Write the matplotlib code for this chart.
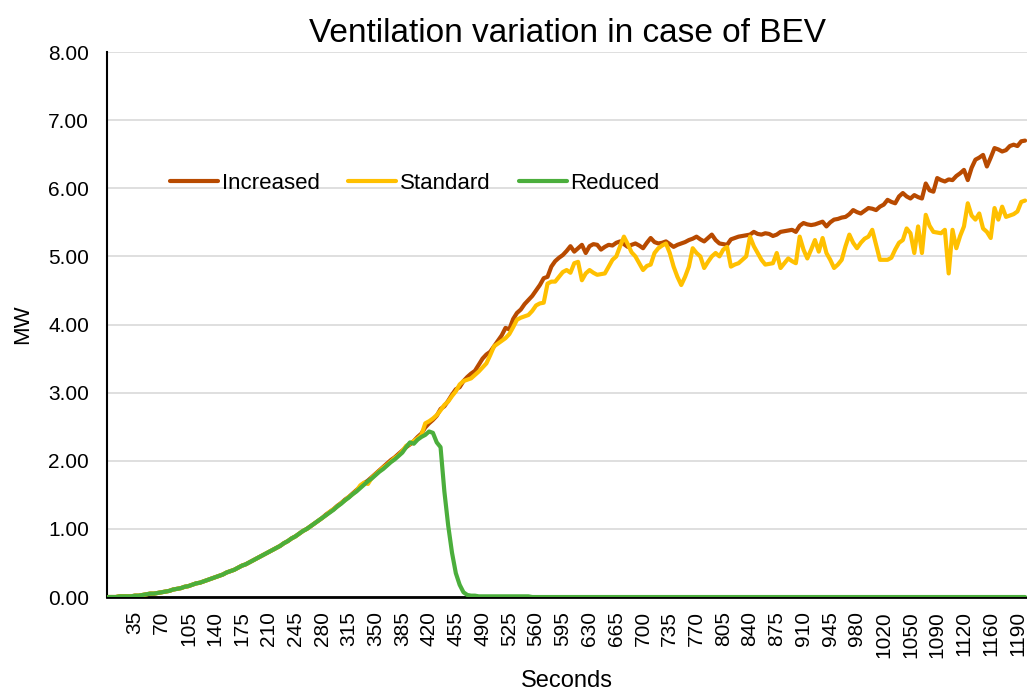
import matplotlib.pyplot as plt
import numpy as np

plt.rcParams['font.family'] = ['Liberation Sans', 'DejaVu Sans']

# values, one value per 5 s step (MW)
increased = [
    0.00, 0.00, 0.00, 0.01, 0.01, 0.01, 0.01, 0.02, 0.02, 0.03,
    0.04, 0.05, 0.05, 0.06, 0.07, 0.08, 0.09, 0.11, 0.12, 0.13,
    0.15, 0.16, 0.18, 0.20, 0.21, 0.23, 0.25, 0.27, 0.29, 0.31,
    0.33, 0.36, 0.38, 0.40, 0.43, 0.46, 0.48, 0.51, 0.54, 0.57,
    0.60, 0.63, 0.66, 0.69, 0.72, 0.75, 0.79, 0.82, 0.86, 0.89,
    0.93, 0.97, 1.00, 1.04, 1.08, 1.12, 1.16, 1.21, 1.25, 1.29,
    1.34, 1.38, 1.43, 1.47, 1.52, 1.57, 1.62, 1.67, 1.71, 1.76,
    1.81, 1.86, 1.91, 1.96, 2.01, 2.05, 2.10, 2.15, 2.20, 2.24,
    2.29, 2.35, 2.40, 2.49, 2.55, 2.60, 2.66, 2.76, 2.80, 2.88,
    2.97, 3.05, 3.08, 3.17, 3.23, 3.28, 3.32, 3.41, 3.50, 3.56,
    3.60, 3.68, 3.76, 3.84, 3.95, 3.93, 4.08, 4.17, 4.22, 4.30,
    4.36, 4.42, 4.50, 4.58, 4.68, 4.70, 4.85, 4.93, 4.98, 5.02,
    5.08, 5.15, 5.07, 5.12, 5.17, 5.05, 5.15, 5.18, 5.17, 5.10,
    5.14, 5.17, 5.16, 5.20, 5.22, 5.18, 5.14, 5.17, 5.19, 5.16,
    5.12, 5.20, 5.27, 5.21, 5.19, 5.20, 5.22, 5.18, 5.14, 5.17,
    5.19, 5.21, 5.24, 5.26, 5.29, 5.25, 5.22, 5.27, 5.32, 5.24,
    5.19, 5.18, 5.17, 5.25, 5.27, 5.29, 5.30, 5.31, 5.32, 5.36,
    5.33, 5.32, 5.34, 5.33, 5.30, 5.32, 5.36, 5.37, 5.38, 5.39,
    5.36, 5.45, 5.49, 5.47, 5.46, 5.47, 5.49, 5.51, 5.44, 5.50,
    5.54, 5.55, 5.57, 5.58, 5.62, 5.68, 5.65, 5.63, 5.67, 5.71,
    5.70, 5.68, 5.73, 5.76, 5.83, 5.80, 5.78, 5.88, 5.93, 5.88,
    5.85, 5.90, 5.87, 5.85, 6.07, 5.97, 5.95, 6.15, 6.12, 6.10,
    6.13, 6.12, 6.18, 6.22, 6.27, 6.12, 6.30, 6.42, 6.45, 6.49,
    6.32, 6.45, 6.59, 6.57, 6.54, 6.56, 6.62, 6.64, 6.62, 6.69,
    6.70,
]

standard = [
    0.00, 0.00, 0.00, 0.01, 0.01, 0.01, 0.01, 0.02, 0.02, 0.03,
    0.04, 0.05, 0.05, 0.06, 0.07, 0.08, 0.09, 0.11, 0.12, 0.13,
    0.15, 0.16, 0.18, 0.20, 0.21, 0.23, 0.25, 0.27, 0.29, 0.31,
    0.33, 0.36, 0.38, 0.40, 0.43, 0.46, 0.48, 0.51, 0.54, 0.57,
    0.60, 0.63, 0.66, 0.69, 0.72, 0.75, 0.79, 0.82, 0.86, 0.89,
    0.93, 0.97, 1.00, 1.04, 1.08, 1.12, 1.16, 1.20, 1.25, 1.29,
    1.33, 1.38, 1.42, 1.47, 1.51, 1.56, 1.64, 1.68, 1.66, 1.75,
    1.80, 1.85, 1.90, 1.94, 1.99, 2.04, 2.08, 2.14, 2.22, 2.25,
    2.29, 2.33, 2.38, 2.55, 2.58, 2.62, 2.67, 2.74, 2.82, 2.87,
    2.95, 3.02, 3.12, 3.17, 3.19, 3.21, 3.26, 3.31, 3.37, 3.43,
    3.55, 3.68, 3.72, 3.76, 3.80, 3.86, 3.96, 4.07, 4.10, 4.12,
    4.14, 4.20, 4.28, 4.31, 4.32, 4.60, 4.63, 4.63, 4.70, 4.77,
    4.80, 4.76, 4.90, 4.92, 4.65, 4.75, 4.80, 4.76, 4.73, 4.74,
    4.75, 4.85, 4.95, 5.00, 5.15, 5.29, 5.18, 5.06, 5.00, 4.90,
    4.80, 4.86, 4.88, 5.05, 5.12, 5.16, 5.19, 5.05, 4.85, 4.70,
    4.58, 4.70, 4.85, 5.12, 5.05, 5.00, 4.83, 4.92, 5.00, 5.05,
    5.00, 5.10, 5.14, 4.85, 4.88, 4.90, 4.95, 5.00, 5.29, 5.15,
    5.05, 4.95, 4.88, 4.89, 4.90, 5.05, 4.83, 4.90, 4.97, 4.93,
    4.90, 5.29, 5.10, 4.97, 5.10, 5.24, 5.07, 5.27, 5.05, 4.95,
    4.83, 4.88, 4.95, 5.15, 5.32, 5.20, 5.12, 5.20, 5.26, 5.29,
    5.39, 5.17, 4.95, 4.95, 4.95, 4.98, 5.10, 5.20, 5.24, 5.41,
    5.34, 5.05, 5.44, 5.05, 5.61, 5.45, 5.36, 5.35, 5.34, 5.39,
    4.75, 5.39, 5.12, 5.30, 5.44, 5.78, 5.60, 5.54, 5.63, 5.41,
    5.36, 5.27, 5.71, 5.54, 5.73, 5.58, 5.60, 5.62, 5.66, 5.80,
    5.82,
]

reduced = [
    0.00, 0.00, 0.00, 0.01, 0.01, 0.01, 0.01, 0.02, 0.02, 0.03,
    0.04, 0.05, 0.05, 0.06, 0.07, 0.08, 0.09, 0.11, 0.12, 0.13,
    0.15, 0.16, 0.18, 0.20, 0.21, 0.23, 0.25, 0.27, 0.29, 0.31,
    0.33, 0.36, 0.38, 0.40, 0.43, 0.46, 0.48, 0.51, 0.54, 0.57,
    0.60, 0.63, 0.66, 0.69, 0.72, 0.75, 0.79, 0.82, 0.86, 0.89,
    0.93, 0.97, 1.00, 1.04, 1.08, 1.12, 1.16, 1.20, 1.24, 1.28,
    1.33, 1.37, 1.42, 1.46, 1.51, 1.55, 1.60, 1.65, 1.70, 1.74,
    1.79, 1.84, 1.88, 1.93, 1.98, 2.02, 2.07, 2.12, 2.20, 2.27,
    2.25, 2.31, 2.35, 2.38, 2.43, 2.41, 2.27, 2.20, 1.55, 1.05,
    0.65, 0.35, 0.18, 0.07, 0.03, 0.02, 0.02, 0.01, 0.01, 0.01,
    0.01, 0.01, 0.01, 0.01, 0.01, 0.01, 0.01, 0.01, 0.01, 0.01,
    0.01, 0.00, 0.00, 0.00, 0.00, 0.00, 0.00, 0.00, 0.00, 0.00,
    0.00, 0.00, 0.00, 0.00, 0.00, 0.00, 0.00, 0.00, 0.00, 0.00,
    0.00, 0.00, 0.00, 0.00, 0.00, 0.00, 0.00, 0.00, 0.00, 0.00,
    0.00, 0.00, 0.00, 0.00, 0.00, 0.00, 0.00, 0.00, 0.00, 0.00,
    0.00, 0.00, 0.00, 0.00, 0.00, 0.00, 0.00, 0.00, 0.00, 0.00,
    0.00, 0.00, 0.00, 0.00, 0.00, 0.00, 0.00, 0.00, 0.00, 0.00,
    0.00, 0.00, 0.00, 0.00, 0.00, 0.00, 0.00, 0.00, 0.00, 0.00,
    0.00, 0.00, 0.00, 0.00, 0.00, 0.00, 0.00, 0.00, 0.00, 0.00,
    0.00, 0.00, 0.00, 0.00, 0.00, 0.00, 0.00, 0.00, 0.00, 0.00,
    0.00, 0.00, 0.00, 0.00, 0.00, 0.00, 0.00, 0.00, 0.00, 0.00,
    0.00, 0.00, 0.00, 0.00, 0.00, 0.00, 0.00, 0.00, 0.00, 0.00,
    0.00, 0.00, 0.00, 0.00, 0.00, 0.00, 0.00, 0.00, 0.00, 0.00,
    0.00, 0.00, 0.00, 0.00, 0.00, 0.00, 0.00, 0.00, 0.00, 0.00,
    0.00,
]

# category labels shown on the x axis (every 7th category)
tick_labels = ['35', '70', '105', '140', '175', '210', '245', '280', '315',
               '350', '385', '420', '455', '490', '525', '560', '595', '630',
               '665', '700', '735', '770', '805', '840', '875', '910', '945',
               '980', '1020', '1050', '1090', '1120', '1160', '1190']
label_step = 7

fig = plt.figure(figsize=(10.27, 6.91), dpi=100)
ax = fig.add_axes([0.1042, 0.136, 0.8958, 0.7887])

x = np.arange(len(increased))
ax.plot(x, increased, color='#B84A00', lw=3, label='Increased', solid_capstyle='round', zorder=3)
ax.plot(x, standard, color='#FFC000', lw=3, label='Standard', solid_capstyle='round', zorder=4)
ax.plot(x, reduced, color='#4BAE3C', lw=3, label='Reduced', solid_capstyle='round', zorder=5)

ax.set_xlim(-0.3, 240.5)
ax.set_ylim(0, 8)
ax.set_yticks(np.arange(0, 9, 1))
ax.set_yticklabels(['%.2f' % v for v in np.arange(0, 9, 1)], fontsize=15)
ax.set_xticks([label_step * (k + 1) for k in range(len(tick_labels))])
ax.set_xticklabels(tick_labels, rotation=90, fontsize=15)
ax.tick_params(axis='y', length=0, pad=13)
ax.tick_params(axis='x', length=0, pad=10)

ax.grid(axis='y', color='#D9D9D9', lw=1.2)
ax.set_axisbelow(True)
for s in ['top', 'right']:
    ax.spines[s].set_visible(False)
ax.spines['left'].set_linewidth(1.5)
ax.spines['bottom'].set_linewidth(2)

ax.set_title('Ventilation variation in case of BEV', fontsize=24, pad=7)
ax.set_ylabel('MW', fontsize=16)
ax.yaxis.set_label_coords(-0.080, 0.5)
ax.set_xlabel('Seconds', fontsize=17)
ax.xaxis.set_label_coords(0.5, -0.134)

ax.legend(loc='center left', bbox_to_anchor=(0.0565, 0.759), ncol=3, frameon=False,
          fontsize=16, borderpad=0, handlelength=2.16, handletextpad=0.18,
          columnspacing=1.26)

fig.savefig('out.png', dpi=100)
